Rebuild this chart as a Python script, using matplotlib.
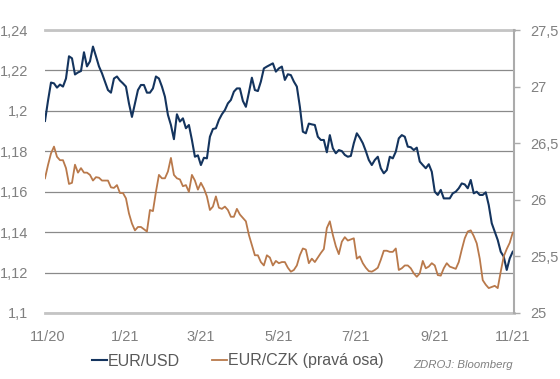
import numpy as np
import pandas as pd
import matplotlib
matplotlib.use("Agg")
import matplotlib.pyplot as plt

plt.rcParams['font.family'] = ['Liberation Sans', 'DejaVu Sans']

start_date = "2020-10-30"
end_date = "2021-11-01"

eur_usd = [
    1.195, 1.205, 1.214, 1.2136, 1.2115, 1.213, 1.212, 1.216, 1.227, 1.226,
    1.218, 1.219, 1.2197, 1.229, 1.222, 1.2245, 1.2318, 1.227, 1.222, 1.2186,
    1.2145, 1.2103, 1.209, 1.216, 1.217, 1.215, 1.2136, 1.212, 1.2037, 1.197,
    1.2037, 1.2103, 1.2128, 1.2128, 1.209, 1.209, 1.2111, 1.217, 1.216,
    1.212, 1.207, 1.198, 1.193, 1.186, 1.1983, 1.1947, 1.1963, 1.1914, 1.193,
    1.1856, 1.1773, 1.178, 1.1732, 1.1768, 1.1765, 1.1872, 1.191, 1.1914, 1.1955,
    1.1983, 1.2004, 1.2037, 1.2054, 1.2095, 1.2111, 1.2111, 1.2049, 1.202, 1.209,
    1.2164, 1.2103, 1.2098, 1.2145, 1.221, 1.2219, 1.2227, 1.2235, 1.2194, 1.221,
    1.2219, 1.2153, 1.2181, 1.2177, 1.2145, 1.212, 1.2021, 1.1897, 1.1889, 1.1937,
    1.1933, 1.193, 1.1872, 1.1856, 1.1856, 1.1795, 1.188, 1.1815, 1.179, 1.1806,
    1.1801, 1.1782, 1.1773, 1.1777, 1.184, 1.1889, 1.1867, 1.184, 1.1801, 1.1757,
    1.1732, 1.1757, 1.1773, 1.1716, 1.1691, 1.1707, 1.1773, 1.1765, 1.1798, 1.1864,
    1.188, 1.1872, 1.1823, 1.182, 1.1806, 1.1818, 1.1749, 1.1732, 1.1716, 1.1736,
    1.1699, 1.16, 1.1584, 1.1609, 1.1567, 1.1567, 1.1567, 1.1592, 1.16, 1.1617,
    1.1641, 1.1636, 1.1617, 1.1658, 1.1592, 1.16, 1.1584, 1.1584, 1.1597, 1.1534,
    1.1444, 1.1402, 1.1361, 1.1303, 1.1279, 1.1213, 1.127, 1.1303,
]

eur_czk = [
    26.19, 26.307, 26.41, 26.47, 26.38, 26.35, 26.35, 26.28, 26.14, 26.15,
    26.31, 26.24, 26.28, 26.24, 26.24, 26.22, 26.17, 26.2, 26.195, 26.17,
    26.17, 26.17, 26.11, 26.105, 26.13, 26.06, 26.06, 26.013, 25.88, 25.79,
    25.73, 25.76, 25.76, 25.74, 25.72, 25.91, 25.9, 26.07, 26.22,
    26.19, 26.19, 26.25, 26.37, 26.22, 26.19, 26.18, 26.12, 26.13, 26.07,
    26.22, 26.17, 26.09, 26.15, 26.1, 26.03, 25.91, 25.94, 26.03, 25.93,
    25.92, 25.94, 25.91, 25.85, 25.85, 25.92, 25.87, 25.84, 25.81, 25.69,
    25.6, 25.51, 25.51, 25.45, 25.42, 25.51, 25.49, 25.42, 25.46, 25.44,
    25.45, 25.45, 25.4, 25.365, 25.38, 25.42, 25.51, 25.57, 25.56, 25.44,
    25.48, 25.45, 25.49, 25.53, 25.565, 25.75, 25.81, 25.69, 25.59, 25.52,
    25.63, 25.67, 25.64, 25.65, 25.66, 25.48, 25.5, 25.44, 25.4, 25.37,
    25.365, 25.38, 25.4, 25.47, 25.55, 25.55, 25.54, 25.54, 25.57, 25.38,
    25.395, 25.42, 25.42, 25.395, 25.35, 25.32, 25.35, 25.46, 25.395, 25.41,
    25.44, 25.42, 25.335, 25.33, 25.395, 25.44, 25.41, 25.4, 25.39, 25.45,
    25.56, 25.66, 25.72, 25.73, 25.68, 25.615, 25.48, 25.29, 25.25, 25.22,
    25.23, 25.24, 25.22, 25.365, 25.5, 25.565, 25.62, 25.71,
]

left_ticks = [1.10, 1.12, 1.14, 1.16, 1.18, 1.20, 1.22, 1.24]
left_labels = ["1,1", "1,12", "1,14", "1,16", "1,18", "1,2", "1,22", "1,24"]
right_ticks = [25.0, 25.5, 26.0, 26.5, 27.0, 27.5]
right_labels = ["25", "25,5", "26", "26,5", "27", "27,5"]
x_tick_dates = ["2020-11-01", "2021-01-01", "2021-03-01", "2021-05-01",
                "2021-07-01", "2021-09-01", "2021-11-01"]
x_tick_labels = ["11/20", "1/21", "3/21", "5/21", "7/21", "9/21", "11/21"]

dates = pd.date_range(start_date, end_date, periods=len(eur_usd))

NAVY = "#14345e"
BROWN = "#b9794b"
TICK_C = "#808080"

fig = plt.figure(figsize=(5.6, 3.79), dpi=100)
ax = fig.add_axes([45/560, 1-313/379, (514-45)/560, (313-30)/379])
ax2 = ax.twinx()

l1, = ax.plot(dates, eur_usd, color=NAVY, lw=1.5, label="EUR/USD", zorder=3)
l2, = ax2.plot(dates, eur_czk, color=BROWN, lw=1.3, label="EUR/CZK (pravá osa)", zorder=3)

ax.set_ylim(1.10, 1.24)
ax2.set_ylim(25.0, 27.5)
ax.set_xlim(pd.Timestamp("2020-10-30"), pd.Timestamp("2021-11-02"))

ax.set_yticks(left_ticks)
ax.set_yticklabels(left_labels)
ax2.set_yticks(right_ticks)
ax2.set_yticklabels(right_labels)
ax.set_xticks(pd.to_datetime(x_tick_dates))
ax.set_xticklabels(x_tick_labels)

ax.grid(axis='y', color='#8a8a8a', lw=0.9)
ax.set_axisbelow(True)

for s in ['left', 'right']:
    ax.spines[s].set_visible(False)
for s in ['top', 'bottom']:
    ax.spines[s].set_color('#c4c4c4')
    ax.spines[s].set_linewidth(2.0)
for s in ['left', 'top', 'bottom']:
    ax2.spines[s].set_visible(False)
ax2.spines['right'].set_color('#ababab')
ax2.spines['right'].set_linewidth(1.5)

ax.tick_params(axis='y', length=0, pad=12, labelsize=10.5, labelcolor=TICK_C)
ax.tick_params(axis='x', length=0, pad=12, labelsize=10.5, labelcolor=TICK_C)
ax2.tick_params(axis='y', length=4, width=1, color='#ababab', pad=8,
                labelsize=10.5, labelcolor=TICK_C)

fig.legend(handles=[l1, l2], loc='center', bbox_to_anchor=(238/560, 1-361/379),
           ncol=2, frameon=False, fontsize=11.5, handlelength=0.9,
           handletextpad=0.1, columnspacing=2.0, labelcolor='#595959')
fig.text(413/560, 1-365/379, "ZDROJ: Bloomberg", fontsize=8.2, style='italic',
         color='#7f7f7f', ha='left', va='center')

fig.savefig("out.png", dpi=100)
